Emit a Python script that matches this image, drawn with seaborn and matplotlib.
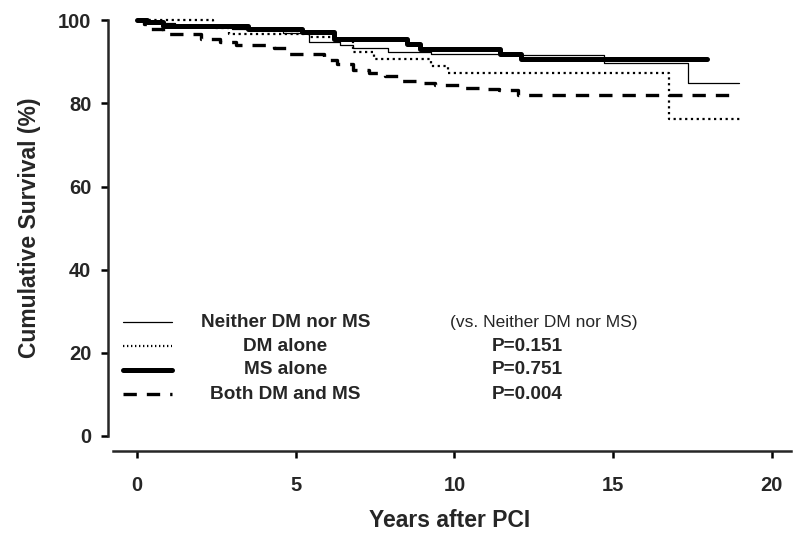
import matplotlib
matplotlib.use("Agg")
import matplotlib.pyplot as plt
import seaborn as sns
import pandas as pd
from matplotlib.lines import Line2D

# ---- data ----
neither_t = [0, 0.4, 1.2, 3.0, 4.6, 5.4, 6.4, 6.8, 7.9, 9.25, 11.45, 14.7, 17.35, 18.96]
neither_s = [100, 99.3, 98.6, 97.8, 97.0, 94.8, 94.0, 93.4, 92.4, 92.0, 91.6, 89.6, 84.9, 84.9]

dm_t = [0, 2.4, 2.9, 5.4, 6.2, 6.8, 7.45, 9.25, 9.8, 16.75, 19.0]
dm_s = [100, 98.2, 96.6, 96.0, 95.2, 92.4, 90.6, 89.0, 87.4, 76.2, 76.2]

ms_t = [0, 0.3, 0.8, 3.5, 5.2, 6.2, 8.5, 8.9, 11.45, 12.1, 17.95]
ms_s = [100, 99.5, 98.6, 98.0, 97.1, 95.5, 94.2, 93.0, 92.0, 90.8, 90.8]

both_t = [0, 0.2, 0.4, 0.8, 2.0, 2.6, 3.1, 4.3, 4.8, 5.9, 6.3, 6.8, 7.3, 7.8, 8.3, 8.9, 9.4, 10.2, 10.9, 11.4, 12.0, 18.7]
both_s = [100, 99.0, 98.0, 96.6, 95.6, 94.8, 94.1, 93.4, 92.0, 90.5, 89.4, 88.0, 87.4, 86.6, 85.4, 84.9, 84.4, 83.8, 83.4, 83.2, 82.0, 82.0]

groups = ["Neither DM nor MS", "DM alone", "MS alone", "Both DM and MS"]
pvalues = ["(vs. Neither DM nor MS)", "P=0.151", "P=0.751", "P=0.004"]
x_ticks = [0, 5, 10, 15, 20]
y_ticks = [0, 20, 40, 60, 80, 100]

series = {
    "Neither DM nor MS": (neither_t, neither_s),
    "DM alone": (dm_t, dm_s),
    "MS alone": (ms_t, ms_s),
    "Both DM and MS": (both_t, both_s),
}
styles = {
    "Neither DM nor MS": dict(lw=0.9, ls="-"),
    "DM alone": dict(lw=1.6, ls=(0, (1, 1.6))),
    "MS alone": dict(lw=3.6, ls="-"),
    "Both DM and MS": dict(lw=2.4, ls=(0, (4, 3))),
}

rows = []
for g, (t, s) in series.items():
    for ti, si in zip(t, s):
        rows.append({"group": g, "years": ti, "surv": si})
df = pd.DataFrame(rows)

sns.set_style("ticks")
plt.rcParams["font.family"] = ["Liberation Sans", "DejaVu Sans"]

fig = plt.figure(figsize=(7.94, 5.33), dpi=100)
ax = fig.add_axes([0.136, 0.182, 0.86, 0.780])

for g in groups:
    sub = df[df.group == g]
    sns.lineplot(data=sub, x="years", y="surv", ax=ax, color="black",
                 estimator=None, sort=False, drawstyle="steps-post",
                 linewidth=styles[g]["lw"], linestyle=styles[g]["ls"],
                 legend=False, clip_on=False)

ax.set_xlim(-0.92, 20.6)
ax.set_ylim(0, 100)

sns.despine(ax=ax)
ax.spines["bottom"].set_position(("outward", 11))
ax.spines["bottom"].set_bounds(-0.75, 20.6)
for sp in ["left", "bottom"]:
    ax.spines[sp].set_linewidth(1.8)

ax.set_xticks(x_ticks)
ax.set_yticks(y_ticks)
ax.tick_params(axis="both", length=5, width=1.8, color="black", labelsize=14.5)
ax.tick_params(axis="y", pad=7)
ax.tick_params(axis="x", pad=13)
for lab in ax.get_xticklabels() + ax.get_yticklabels():
    lab.set_fontweight("bold")

ax.set_xlabel("Years after PCI", fontsize=16.5, fontweight="bold", labelpad=10)
ax.set_ylabel("Cumulative Survival (%)", fontsize=16.5, fontweight="bold", labelpad=12)

# legend block
row_y = [27.4, 21.6, 15.9, 10.1]
for g, p, yy in zip(groups, pvalues, row_y):
    st = styles[g]
    ax.add_line(Line2D([-0.44, 1.10], [yy, yy], color="black",
                       lw=st["lw"], ls=st["ls"] if g != "DM alone" else (0, (0.6, 1.2))))
    ax.text(4.67, yy, g, ha="center", va="center", fontsize=13.7, fontweight="bold")
    if p.startswith("("):
        ax.text(12.8, yy, p, ha="center", va="center", fontsize=12.5)
    else:
        ax.text(12.3, yy, p, ha="center", va="center", fontsize=13.7, fontweight="bold")

fig.savefig("out.png", dpi=100)
